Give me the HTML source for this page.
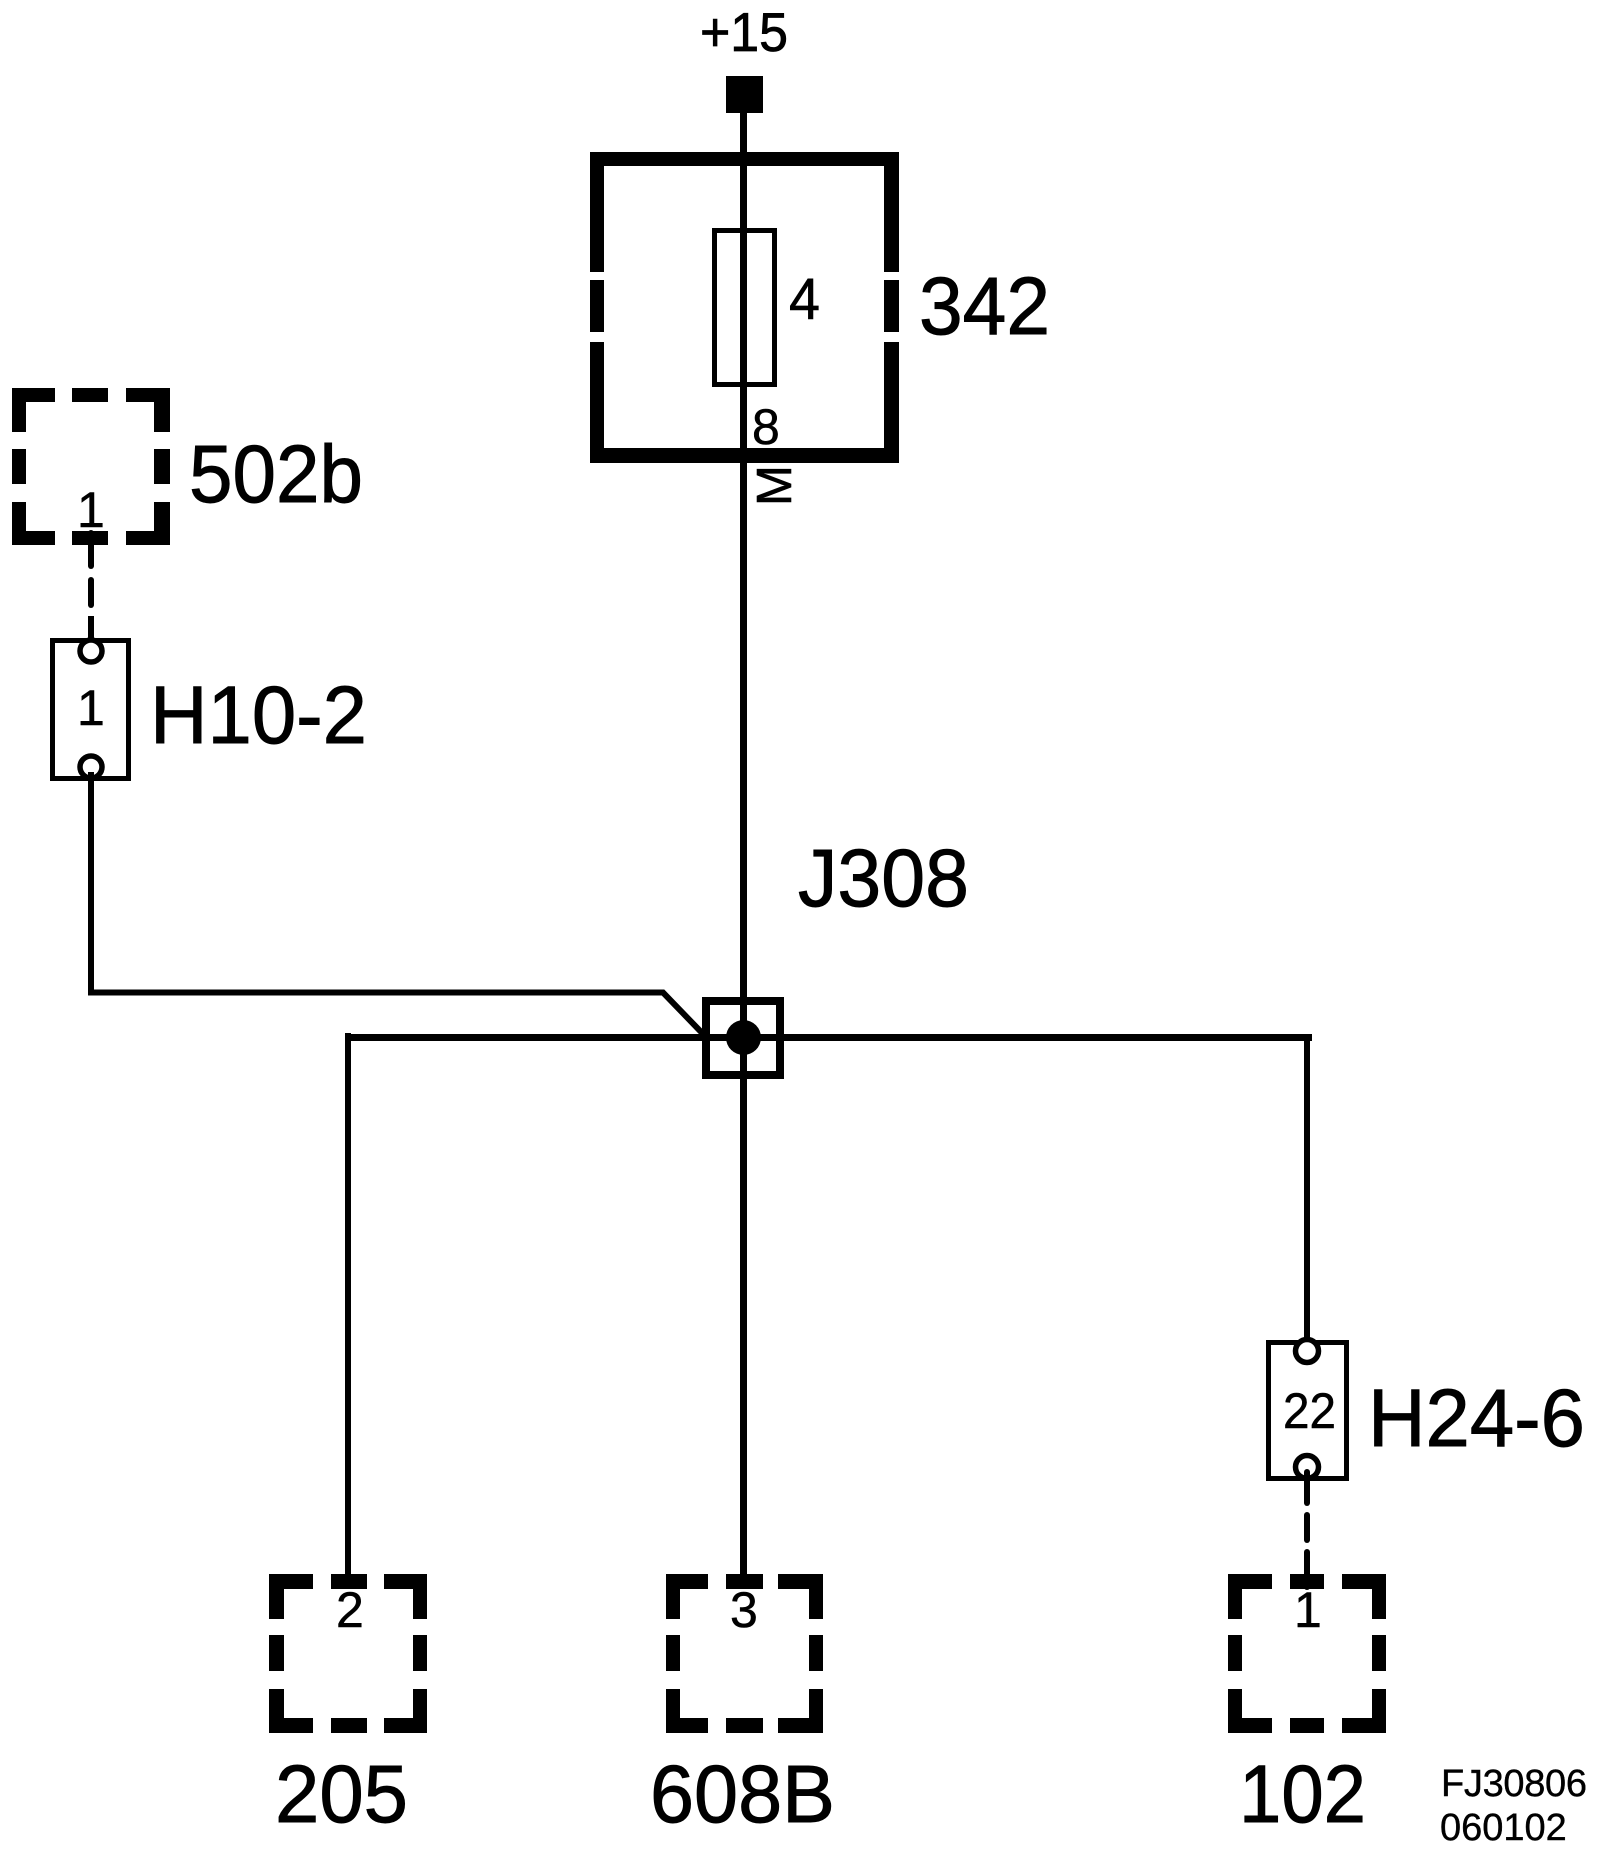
<!DOCTYPE html>
<html><head><meta charset="utf-8"><style>
html,body{margin:0;padding:0;background:#fff;width:1600px;height:1868px;overflow:hidden}
svg{display:block}
text{font-family:"Liberation Sans",sans-serif;fill:#000;stroke:#000}
.b{font-size:82px;stroke-width:.9px}.s{font-size:50px;stroke-width:.5px}
</style></head><body>
<svg width="1600" height="1868" viewBox="0 0 1600 1868" xmlns="http://www.w3.org/2000/svg">
<rect width="1600" height="1868" fill="#fff"/>
<!-- 342 thick box -->
<g fill="#000">
<rect x="590" y="152" width="309" height="14"/>
<rect x="590" y="448" width="309" height="15"/>
<rect x="590" y="152" width="14" height="120"/><rect x="590" y="280" width="14" height="52"/><rect x="590" y="342" width="14" height="121"/>
<rect x="884" y="152" width="15" height="120"/><rect x="884" y="280" width="15" height="52"/><rect x="884" y="342" width="15" height="121"/>
<rect x="726" y="76" width="37" height="37"/>
<!-- 502b -->
<rect x="12" y="388" width="43" height="14"/><rect x="72" y="388" width="36" height="14"/><rect x="126" y="388" width="44" height="14"/>
<rect x="12" y="531" width="43" height="14"/><rect x="72" y="531" width="36" height="14"/><rect x="126" y="531" width="44" height="14"/>
<rect x="12" y="388" width="14" height="44"/><rect x="12" y="449" width="14" height="35"/><rect x="12" y="502" width="14" height="43"/>
<rect x="154" y="388" width="16" height="44"/><rect x="154" y="449" width="16" height="35"/><rect x="154" y="502" width="16" height="43"/>
<!-- 205 -->
<rect x="269" y="1574" width="44" height="15"/><rect x="331" y="1574" width="36" height="15"/><rect x="384" y="1574" width="43" height="15"/>
<rect x="269" y="1718" width="44" height="15"/><rect x="331" y="1718" width="36" height="15"/><rect x="384" y="1718" width="43" height="15"/>
<rect x="269" y="1574" width="15" height="45"/><rect x="269" y="1635" width="15" height="36"/><rect x="269" y="1689" width="15" height="44"/>
<rect x="413" y="1574" width="14" height="45"/><rect x="413" y="1635" width="14" height="36"/><rect x="413" y="1689" width="14" height="44"/>
<!-- 608B -->
<rect x="666" y="1574" width="42" height="15"/><rect x="726" y="1574" width="37" height="15"/><rect x="778" y="1574" width="45" height="15"/>
<rect x="666" y="1718" width="42" height="15"/><rect x="726" y="1718" width="37" height="15"/><rect x="778" y="1718" width="45" height="15"/>
<rect x="666" y="1574" width="14" height="45"/><rect x="666" y="1635" width="14" height="36"/><rect x="666" y="1689" width="14" height="44"/>
<rect x="809" y="1574" width="14" height="45"/><rect x="809" y="1635" width="14" height="36"/><rect x="809" y="1689" width="14" height="44"/>
<!-- 102 -->
<rect x="1228" y="1574" width="44" height="15"/><rect x="1290" y="1574" width="34" height="15"/><rect x="1342" y="1574" width="44" height="15"/>
<rect x="1228" y="1718" width="44" height="15"/><rect x="1290" y="1718" width="34" height="15"/><rect x="1342" y="1718" width="44" height="15"/>
<rect x="1228" y="1574" width="14" height="45"/><rect x="1228" y="1635" width="14" height="36"/><rect x="1228" y="1689" width="14" height="44"/>
<rect x="1372" y="1574" width="14" height="45"/><rect x="1372" y="1635" width="14" height="36"/><rect x="1372" y="1689" width="14" height="44"/>
</g>
<!-- fuse -->
<rect x="714.5" y="230.5" width="60" height="154" fill="none" stroke="#000" stroke-width="5"/>
<!-- main wires -->
<g fill="#000">
<rect x="740" y="113" width="7" height="1475"/>
<rect x="345" y="1034" width="967" height="7"/>
<rect x="345" y="1033" width="6" height="555"/>
<rect x="1304" y="1034" width="6" height="306"/>
</g>
<path d="M91 772V992.500H663L705 1036" fill="none" stroke="#000" stroke-width="6"/>
<!-- junction -->
<rect x="706" y="1001" width="74" height="74" fill="none" stroke="#000" stroke-width="8"/>
<circle cx="743.5" cy="1037.500" r="17.500" fill="#000"/>
<!-- H10-2 -->
<line x1="91" y1="533" x2="91" y2="566" stroke="#000" stroke-width="6" stroke-linecap="round"/>
<line x1="91" y1="580" x2="91" y2="605" stroke="#000" stroke-width="6" stroke-linecap="round"/>
<line x1="91" y1="616" x2="91" y2="642" stroke="#000" stroke-width="6"/>
<rect x="52.5" y="640.5" width="76" height="138" fill="none" stroke="#000" stroke-width="5"/>
<circle cx="91" cy="651" r="11" fill="#fff" stroke="#000" stroke-width="5.500"/>
<circle cx="91" cy="767" r="11" fill="#fff" stroke="#000" stroke-width="5.500"/>
<line x1="91" y1="772" x2="91" y2="785" stroke="#000" stroke-width="6"/>
<!-- H24-6 -->
<rect x="1268.5" y="1342.500" width="78" height="136" fill="none" stroke="#000" stroke-width="5"/>
<circle cx="1307" cy="1351" r="11.500" fill="#fff" stroke="#000" stroke-width="5.500"/>
<circle cx="1307" cy="1467" r="11.500" fill="#fff" stroke="#000" stroke-width="5.500"/>
<line x1="1307" y1="1472" x2="1307" y2="1503" stroke="#000" stroke-width="6" stroke-linecap="round"/>
<line x1="1307" y1="1515" x2="1307" y2="1540" stroke="#000" stroke-width="6" stroke-linecap="round"/>
<line x1="1307" y1="1552" x2="1307" y2="1587" stroke="#000" stroke-width="6" stroke-linecap="round"/>
<!-- labels -->
<text x="700" y="51" font-size="55" stroke-width=".8" textLength="88" lengthAdjust="spacingAndGlyphs">+15</text>
<text x="789" y="319" font-size="58" stroke-width=".6" textLength="31" lengthAdjust="spacingAndGlyphs">4</text>
<text class="b" x="919" y="334" textLength="131" lengthAdjust="spacingAndGlyphs">342</text>
<text class="s" x="752" y="444">8</text>
<text transform="translate(791,506) rotate(-90)" font-size="49" stroke-width=".6">M</text>
<text class="b" x="189" y="502" textLength="174" lengthAdjust="spacingAndGlyphs">502b</text>
<text class="s" x="77" y="527">1</text>
<text class="b" x="150" y="743" textLength="217" lengthAdjust="spacingAndGlyphs">H10-2</text>
<text class="s" x="77" y="725">1</text>
<text class="b" x="798" y="906" textLength="171" lengthAdjust="spacingAndGlyphs">J308</text>
<text class="s" x="336" y="1627">2</text>
<text class="s" x="730" y="1627">3</text>
<text class="s" x="1294" y="1627">1</text>
<text class="s" x="1283" y="1428" textLength="53" lengthAdjust="spacingAndGlyphs">22</text>
<text class="b" x="1368" y="1446" textLength="217" lengthAdjust="spacingAndGlyphs">H24-6</text>
<text class="b" x="275" y="1822" textLength="133" lengthAdjust="spacingAndGlyphs">205</text>
<text class="b" x="650" y="1822" textLength="185" lengthAdjust="spacingAndGlyphs">608B</text>
<text class="b" x="1239" y="1822" textLength="127" lengthAdjust="spacingAndGlyphs">102</text>
<text x="1441" y="1796" font-size="38" stroke-width=".4" textLength="146" lengthAdjust="spacing">FJ30806</text>
<text x="1440" y="1840" font-size="38" stroke-width=".4">060102</text>
</svg>
</body></html>
